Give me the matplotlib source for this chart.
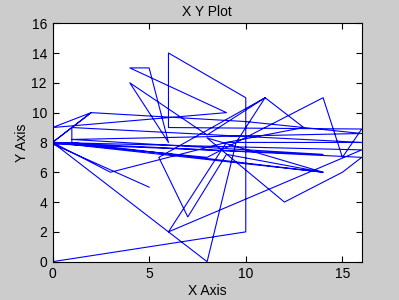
import matplotlib
matplotlib.use("Agg")
import matplotlib.pyplot as plt

# path vertices
x = [0, 10, 10, 6, 6, 16, 15, 14, 8, 0, 3, 9, 16, 1, 1, 14, 8, 12, 15, 16,
     0, 8, 9.5, 11, 8, 4, 6, 5, 4, 9, 0, 2, 0, 16, 6, 9, 13, 11, 5.5, 7,
     9, 14, 0, 2, 10, 16, 1, 14, 0, 5]
y = [0, 2, 11, 14, 9, 8.9, 7, 11, 7, 8, 6, 8, 8, 9, 8, 6, 8.3, 4, 6, 7,
     8, 0, 8, 11, 8.5, 12, 8, 13, 13, 10, 9, 10, 8, 7.5, 2, 8, 9, 11, 7, 3,
     7.2, 6, 8, 10, 9.4, 8.6, 8.2, 7.2, 7.9, 5]

xticks = [0, 5, 10, 15]
yticks = [0, 2, 4, 6, 8, 10, 12, 14, 16]

plt.rcParams['font.family'] = ['Liberation Sans', 'DejaVu Sans']
fig = plt.figure(figsize=(3.99, 3.0), dpi=100, facecolor='#cccccc')
ax = fig.add_axes([0.1316, 0.1277, 0.775, 0.795])
ax.set_facecolor('white')
ax.plot(x, y, color='#0000ff', linewidth=0.8)
ax.set_xlim(0, 16)
ax.set_ylim(0, 16)
ax.set_xticks(xticks)
ax.set_yticks(yticks)
ax.tick_params(direction='in', top=True, right=True, length=4, width=0.8,
               labelsize=10, colors='black', pad=4)
for s in ax.spines.values():
    s.set_linewidth(0.8)
    s.set_color('black')
ax.set_title('X Y Plot', fontsize=10, pad=5)
ax.set_xlabel('X Axis', fontsize=10, labelpad=2)
ax.set_ylabel('Y Axis', fontsize=10, labelpad=2)
fig.savefig('out.png', dpi=100, facecolor=fig.get_facecolor())
